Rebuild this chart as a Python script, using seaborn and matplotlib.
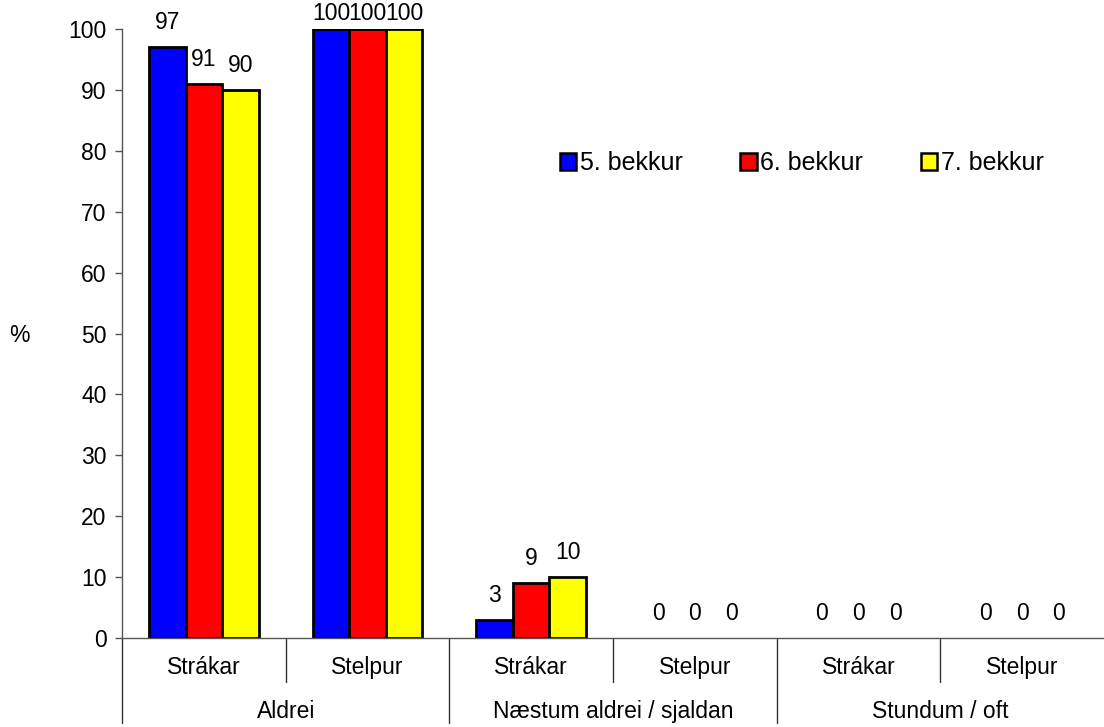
import pandas as pd
import matplotlib.pyplot as plt
import seaborn as sns

# Chart values
main_groups = ['Aldrei', 'Næstum aldrei / sjaldan', 'Stundum / oft']
sub_groups = ['Strákar', 'Stelpur']
grades = ['5. bekkur', '6. bekkur', '7. bekkur']

grade5 = [97, 100, 3, 0, 0, 0]
grade6 = [91, 100, 9, 0, 0, 0]
grade7 = [90, 100, 10, 0, 0, 0]

colors = {'5. bekkur': '#0000FF', '6. bekkur': '#FF0000', '7. bekkur': '#FFFF00'}

# Build long-form table for seaborn
keys = [f'{m}|{s}' for m in main_groups for s in sub_groups]
rows = []
for grade, vals in zip(grades, [grade5, grade6, grade7]):
    for k, v in zip(keys, vals):
        rows.append({'group': k, 'grade': grade, 'value': v})
df = pd.DataFrame(rows)

sns.set_style('white')
plt.rcParams['font.family'] = ['Liberation Sans', 'DejaVu Sans']
plt.rcParams['text.color'] = 'black'
plt.rcParams['ytick.color'] = 'black'
fs = 16.5

fig = plt.figure(figsize=(11.04, 7.27), dpi=100)
ax = fig.add_axes([0.1105, 0.1224, 0.8895, 0.8376])

sns.barplot(data=df, x='group', y='value', hue='grade', order=keys,
            hue_order=grades, palette=colors, width=0.67,
            edgecolor='black', linewidth=2, saturation=1, ax=ax)

ax.set_xlim(-0.5, 5.5)
ax.set_ylim(0, 100)
ax.set_yticks(range(0, 101, 10))
ax.tick_params(axis='y', direction='out', length=5, width=1, color='#555555',
               labelsize=fs, labelcolor='black', pad=6, left=True)
ax.tick_params(axis='x', length=0, labelbottom=False)
ax.set_xlabel('')
ax.set_ylabel('%', rotation=0, fontsize=fs, ha='center', va='center',
              color='black')
ax.yaxis.set_label_coords(-0.104, 0.4975)

sns.despine(ax=ax, top=True, right=True)
for side in ['left', 'bottom']:
    ax.spines[side].set_color('#555555')
    ax.spines[side].set_linewidth(1)
ax.spines['bottom'].set_zorder(5)

# value labels above bars
for cont in ax.containers:
    for bar in cont:
        h = bar.get_height()
        if h == 0:
            bar.set_linewidth(0)
        pad = 3 if h >= 100 else 9.5
        ax.annotate(f'{h:.0f}', (bar.get_x() + bar.get_width() / 2, h),
                    xytext=(0, pad), textcoords='offset points',
                    ha='center', va='bottom', fontsize=fs)

# two-level category axis
trans = ax.get_xaxis_transform()
for i, k in enumerate(keys):
    ax.text(i, -0.048, k.split('|')[1], transform=trans, ha='center',
            va='center', fontsize=fs)
for j, m in enumerate(main_groups):
    ax.text(2 * j + 0.5, -0.121, m, transform=trans, ha='center',
            va='center', fontsize=fs)
for i in range(6):
    x = i - 0.5
    bottom = -0.14 if i % 2 == 0 else -0.072
    ax.plot([x, x], [0, bottom], transform=trans, color='#333333', lw=1,
            clip_on=False)

leg = ax.legend(loc='center left', bbox_to_anchor=(0.446, 0.78), ncol=3,
                frameon=False, fontsize=18, handlelength=0.65, handleheight=0.65,
                handletextpad=0.15, columnspacing=2.3, borderpad=0,
                borderaxespad=0)
for h in leg.legend_handles:
    h.set_edgecolor('black')
    h.set_linewidth(1.8)

fig.savefig('out.png', dpi=100)
